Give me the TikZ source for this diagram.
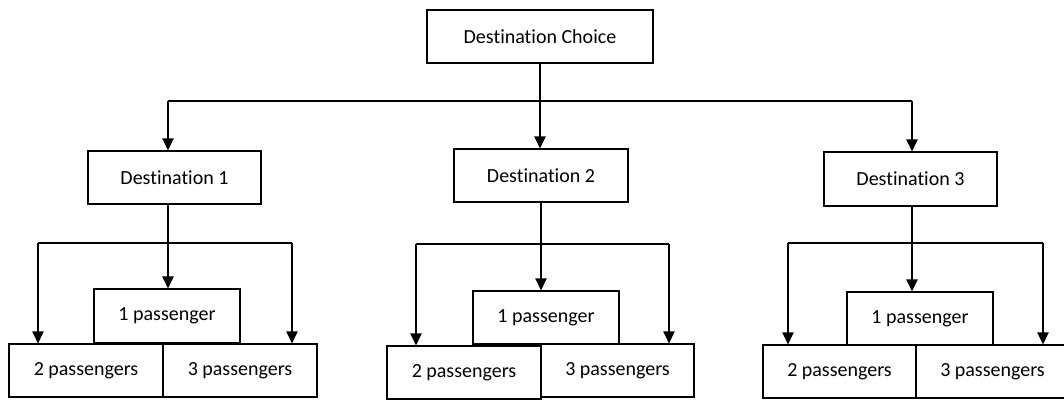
\documentclass[tikz,border=0pt]{standalone}
\usepackage{fontspec}
\setmainfont{Carlito}[Ligatures=NoCommon]
\usetikzlibrary{arrows.meta}
\begin{document}
\begin{tikzpicture}[x=0.75pt,y=-0.75pt,
  box/.style={draw, line width=0.9pt, rectangle, inner sep=0pt, font=\fontsize{15}{18}\selectfont},
  arr/.style={-{Triangle[width=8.5pt,length=9pt]}},
  every path/.style={line width=0.9pt}]
\useasboundingbox (0,0) rectangle (1064,400);
% nodes
\node[box, minimum width={226*0.75pt}, minimum height={53*0.75pt}] (top) at (540,36.5) {Destination Choice};
\node[box, minimum width={173*0.75pt}, minimum height={53*0.75pt}] (d1) at (174.5,177.5) {Destination 1};
\node[box, minimum width={174*0.75pt}, minimum height={53*0.75pt}] (d2) at (541,175.5) {Destination 2};
\node[box, minimum width={173*0.75pt}, minimum height={54*0.75pt}] (d3) at (910.5,179) {Destination 3};
% group 1
\node[box, minimum width={146*0.75pt}, minimum height={54*0.75pt}] (p1a) at (167,316) {1 passenger};
\node[box, minimum width={154*0.75pt}, minimum height={53*0.75pt}] (p2a) at (86,370.5) {2 passengers};
\node[box, minimum width={154*0.75pt}, minimum height={53*0.75pt}] (p3a) at (240,370.5) {3 passengers};
% group 2
\node[box, minimum width={146*0.75pt}, minimum height={53*0.75pt}] (p1b) at (546,317.5) {1 passenger};
\node[box, minimum width={154*0.75pt}, minimum height={53*0.75pt}] (p2b) at (464,372.5) {2 passengers};
\node[box, minimum width={153*0.75pt}, minimum height={53*0.75pt}] (p3b) at (617.5,370.5) {3 passengers};
% group 3
\node[box, minimum width={146*0.75pt}, minimum height={53*0.75pt}] (p1c) at (920,318.5) {1 passenger};
\node[box, minimum width={153*0.75pt}, minimum height={53*0.75pt}] (p2c) at (839.5,371.5) {2 passengers};
\node[box, minimum width={153*0.75pt}, minimum height={53*0.75pt}] (p3c) at (992.5,371.5) {3 passengers};
% junction coordinates
\coordinate (j0) at (540,101);
\coordinate (c1) at (168,101);
\coordinate (c3) at (912,101);
\coordinate (l1) at (38,243);  \coordinate (g1) at (168,243); \coordinate (r1) at (292,243);
\coordinate (l2) at (416,244); \coordinate (g2) at (541,244); \coordinate (r2) at (669,244);
\coordinate (l3) at (788,243); \coordinate (g3) at (912,243); \coordinate (r3) at (1043,243);
% top level
\draw (top.south) -- (j0);
\draw (c1) -- (c3);
\draw[arr] (c1) -- (c1 |- d1.north);
\draw[arr] (j0) -- (j0 |- d2.north);
\draw[arr] (c3) -- (c3 |- d3.north);
% group 1
\draw[arr] (g1 |- d1.south) -- (g1 |- p1a.north);
\draw (l1) -- (r1);
\draw[arr] (l1) -- (l1 |- p2a.north);
\draw[arr] (r1) -- (r1 |- p3a.north);
% group 2
\draw[arr] (g2 |- d2.south) -- (g2 |- p1b.north);
\draw (l2) -- (r2);
\draw[arr] (l2) -- (l2 |- p2b.north);
\draw[arr] (r2) -- (r2 |- p3b.north);
% group 3
\draw[arr] (g3 |- d3.south) -- (g3 |- p1c.north);
\draw (l3) -- (r3);
\draw[arr] (l3) -- (l3 |- p2c.north);
\draw[arr] (r3) -- (r3 |- p3c.north);
\end{tikzpicture}
\end{document}
